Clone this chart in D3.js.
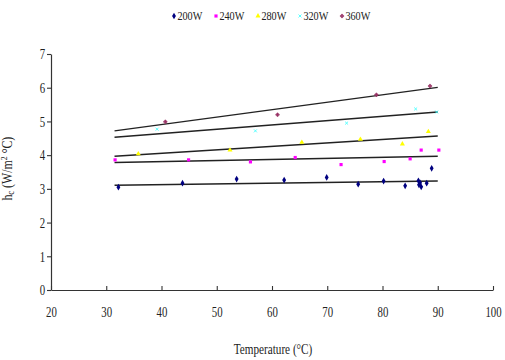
<!DOCTYPE html>
<html>
<head>
<meta charset="utf-8">
<script src="https://cdn.jsdelivr.net/npm/d3@7"></script>
<style>
  body { margin: 0; background: #fff; }
  svg { display: block; }
  text { font-family: "Liberation Serif", "DejaVu Serif", serif; fill: #222; }
</style>
</head>
<body>
<div id="chart"></div>
<script>
// series names and colours
const seriesNames = ["200W", "240W", "280W", "320W", "360W"];
const seriesColors = ["#000080", "#ff00ff", "#ffff00", "#33ffff", "#993366"];

// measured points: temperature (°C) and hc (W/m² °C)
const temp200 = [32.2, 43.8, 53.6, 62.2, 69.9, 75.6, 80.2, 84.1, 86.5, 86.8, 87.0, 86.6, 88.0, 88.9];
const hc200   = [3.05, 3.17, 3.29, 3.26, 3.34, 3.14, 3.23, 3.09, 3.24, 3.18, 3.06, 3.12, 3.17, 3.61];
const temp240 = [31.6, 44.9, 56.1, 64.2, 72.5, 80.3, 85.0, 87.0, 90.2];
const hc240   = [3.86, 3.86, 3.80, 3.93, 3.72, 3.81, 3.89, 4.15, 4.15];
const temp280 = [35.8, 52.4, 65.4, 76.0, 83.6, 88.3];
const hc280   = [4.04, 4.15, 4.38, 4.47, 4.33, 4.70];
const temp320 = [39.2, 57.0, 73.5, 86.0, 89.8];
const hc320   = [4.77, 4.72, 4.95, 5.37, 5.28];
const temp360 = [40.7, 61.0, 78.9, 88.6];
const hc360   = [4.99, 5.20, 5.79, 6.05];

// linear trend lines: value at start and end temperature
const trendRange = [31.5, 90];
const trendStart = [3.11, 3.78, 3.97, 4.53, 4.72];
const trendEnd   = [3.23, 3.97, 4.57, 5.28, 6.01];

const xTicks = [20, 30, 40, 50, 60, 70, 80, 90, 100];
const yTicks = [0, 1, 2, 3, 4, 5, 6, 7];

const width = 505, height = 360;
const margin = { top: 54, right: 12, bottom: 70, left: 51 };

const temps = [temp200, temp240, temp280, temp320, temp360];
const hcs = [hc200, hc240, hc280, hc320, hc360];

const svg = d3.select("#chart").append("svg")
	.attr("width", width)
	.attr("height", height);

const xScale = d3.scaleLinear().domain([20, 100]).range([margin.left, width - margin.right]);
const yScale = d3.scaleLinear().domain([0, 7]).range([height - margin.bottom, margin.top]);

// axes
const xAxis = d3.axisBottom(xScale).tickValues(xTicks).tickFormat(d3.format("d"))
	.tickSizeInner(-4).tickSizeOuter(0).tickPadding(16);
const yAxis = d3.axisLeft(yScale).tickValues(yTicks).tickFormat(d3.format("d"))
	.tickSizeInner(4).tickSizeOuter(0).tickPadding(4);

const gx = svg.append("g")
	.attr("transform", `translate(0,${yScale(0)})`)
	.call(xAxis);
const gy = svg.append("g")
	.attr("transform", `translate(${xScale(20)},0)`)
	.call(yAxis);

[gx, gy].forEach(g => {
	g.select(".domain").attr("stroke", "#333").attr("stroke-width", 1.2);
	g.selectAll(".tick line").attr("stroke", "#333").attr("stroke-width", 1.1);
	g.selectAll(".tick text")
		.attr("font-family", "Liberation Serif")
		.attr("font-size", 15)
		.attr("fill", "#222")
		.attr("transform", "scale(0.72,1)");
});

// axis titles
svg.append("text")
	.attr("transform", `translate(${(xScale(20) + xScale(100)) / 2 + 1},${height - 6}) scale(0.8,1)`)
	.attr("text-anchor", "middle")
	.attr("font-size", 14)
	.text("Temperature (°C)");

const yTitle = svg.append("text")
	.attr("transform", `translate(12,${yScale(3.6)}) rotate(-90) scale(0.85,1)`)
	.attr("text-anchor", "middle")
	.attr("font-size", 14);
yTitle.append("tspan").text("h");
yTitle.append("tspan").attr("font-size", 10).attr("dy", 2).text("c");
yTitle.append("tspan").attr("dy", -2).text(" (W/m");
yTitle.append("tspan").attr("font-size", 9).attr("dy", -5).text("2");
yTitle.append("tspan").attr("dy", 5).text(" °C)");

// trend lines
const trendData = trendStart.map((s, i) => [[trendRange[0], s], [trendRange[1], trendEnd[i]]]);
svg.append("g").selectAll("line")
	.data(trendData)
	.join("line")
	.attr("x1", d => xScale(d[0][0]))
	.attr("y1", d => yScale(d[0][1]))
	.attr("x2", d => xScale(d[1][0]))
	.attr("y2", d => yScale(d[1][1]))
	.attr("stroke", "#222")
	.attr("stroke-width", 1.5);

// markers
const symbols = [d3.symbolDiamond, d3.symbolSquare, d3.symbolTriangle, d3.symbolX, d3.symbolCross];
const symbolSizes = [13, 10, 11, 7, 6];

function drawMarker(sel, i) {
	const path = d3.symbol().type(symbols[i]).size(symbolSizes[i])();
	if (i >= 3) {
		sel.attr("d", path)
			.attr("fill", seriesColors[i])
			.attr("stroke", seriesColors[i])
			.attr("stroke-width", 0.8);
	} else {
		sel.attr("d", path).attr("fill", seriesColors[i]);
	}
}

seriesNames.forEach((name, i) => {
	const pts = temps[i].map((t, j) => [t, hcs[i][j]]);
	const g = svg.append("g").attr("class", "series-" + name);
	g.selectAll("path")
		.data(pts)
		.join("path")
		.attr("transform", d => `translate(${xScale(d[0])},${yScale(d[1])})`)
		.call(drawMarker, i);
});

// legend
const legendX = [174, 216, 258, 300, 342];
const legend = svg.append("g");
seriesNames.forEach((name, i) => {
	const item = legend.append("g").attr("transform", `translate(${legendX[i]},16)`);
	item.append("path").call(drawMarker, i);
	item.append("text")
		.attr("x", 4)
		.attr("y", 4)
		.attr("font-size", 12)
		.attr("transform", "scale(0.85,1)")
		.text(name);
});
</script>
</body>
</html>
